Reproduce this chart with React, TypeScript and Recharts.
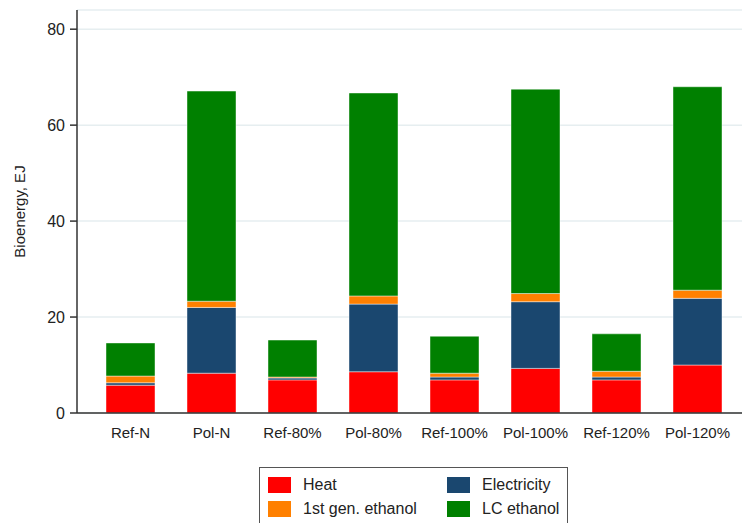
import React from "react";
import {
  BarChart,
  Bar,
  XAxis,
  YAxis,
  CartesianGrid,
  Legend
} from "recharts";

const scenarios = [
  "Ref-N",
  "Pol-N",
  "Ref-80%",
  "Pol-80%",
  "Ref-100%",
  "Pol-100%",
  "Ref-120%",
  "Pol-120%"
];

// EJ, stacked from bottom up
const heat = [5.8, 8.3, 6.9, 8.6, 6.9, 9.3, 6.9, 10.0];
const electricity = [0.5, 13.7, 0.4, 14.1, 0.6, 13.9, 0.6, 13.9];
const firstGenEthanol = [1.4, 1.3, 0.2, 1.7, 0.8, 1.7, 1.2, 1.7];
const lcEthanol = [6.9, 43.8, 7.7, 42.3, 7.7, 42.6, 7.8, 42.4];

const yTicks = [0, 20, 40, 60, 80];

const series = [
  { key: "heat", name: "Heat", color: "#ff0000" },
  { key: "electricity", name: "Electricity", color: "#1a476f" },
  { key: "firstGen", name: "1st gen. ethanol", color: "#ff8000" },
  { key: "lc", name: "LC ethanol", color: "#008000" }
];

const data = scenarios.map((s, i) => ({
  scenario: s,
  heat: heat[i],
  electricity: electricity[i],
  firstGen: firstGenEthanol[i],
  lc: lcEthanol[i]
}));

const font = "'Liberation Sans', Arial, sans-serif";

// legend order in the box: Heat, Electricity / 1st gen. ethanol, LC ethanol
const legendOrder = ["heat", "electricity", "firstGen", "lc"];

const LegendBox = () => (
  <div
    style={{
      width: 309,
      height: 70,
      border: "1px solid #555",
      boxSizing: "border-box",
      position: "relative",
      background: "#fff",
      fontFamily: font,
      fontSize: 16,
      color: "#222"
    }}
  >
    {legendOrder.map((k, i) => {
      const s = series.find((x) => x.key === k)!;
      const col = i % 2;
      const row = Math.floor(i / 2);
      return (
        <div
          key={k}
          style={{
            position: "absolute",
            left: 8 + col * 179,
            top: 9 + row * 24,
            display: "flex",
            alignItems: "center",
            height: 16,
            whiteSpace: "nowrap"
          }}
        >
          <span
            style={{
              display: "inline-block",
              width: 23,
              height: 16,
              background: s.color,
              marginRight: 12
            }}
          />
          <span>{s.name}</span>
        </div>
      );
    })}
  </div>
);

export default function App() {
  return (
    <div style={{ position: "absolute", left: 0, top: 0, background: "#fff" }}>
      <BarChart
        width={742}
        height={523}
        data={data}
        margin={{ top: 10, right: 0, bottom: 80, left: 0 }}
        barSize={49}
        style={{ fontFamily: font }}
      >
        <CartesianGrid
          vertical={false}
          stroke="#e6eef0"
          strokeWidth={1.5}
        />
        <XAxis
          dataKey="scenario"
          height={30}
          tickLine={false}
          tickSize={6}
          tickMargin={8}
          padding={{ left: 13, right: 4 }}
          axisLine={{ stroke: "#333", strokeWidth: 1.5 }}
          tick={{ fill: "#222", fontSize: 15 }}
          interval={0}
        />
        <YAxis
          width={77}
          domain={[0, 84]}
          ticks={yTicks}
          allowDataOverflow
          tickSize={7}
          tickMargin={5}
          axisLine={{ stroke: "#333", strokeWidth: 1.5 }}
          tickLine={{ stroke: "#333", strokeWidth: 1.5 }}
          tick={{ fill: "#222", fontSize: 16 }}
          label={{
            value: "Bioenergy, EJ",
            angle: -90,
            position: "insideLeft",
            offset: 20,
            style: { textAnchor: "middle", fill: "#222", fontSize: 15 }
          }}
        />
        <Legend
          layout="horizontal"
          align="center"
          verticalAlign="middle"
          content={<LegendBox />}
          wrapperStyle={{ left: 259, top: 467, width: 309 }}
        />
        {series.map((s) => (
          <Bar
            key={s.key}
            dataKey={s.key}
            name={s.name}
            stackId="a"
            fill={s.color}
            stroke="rgba(255,255,255,0.55)"
            strokeWidth={0.8}
            isAnimationActive={false}
          />
        ))}
      </BarChart>
    </div>
  );
}
